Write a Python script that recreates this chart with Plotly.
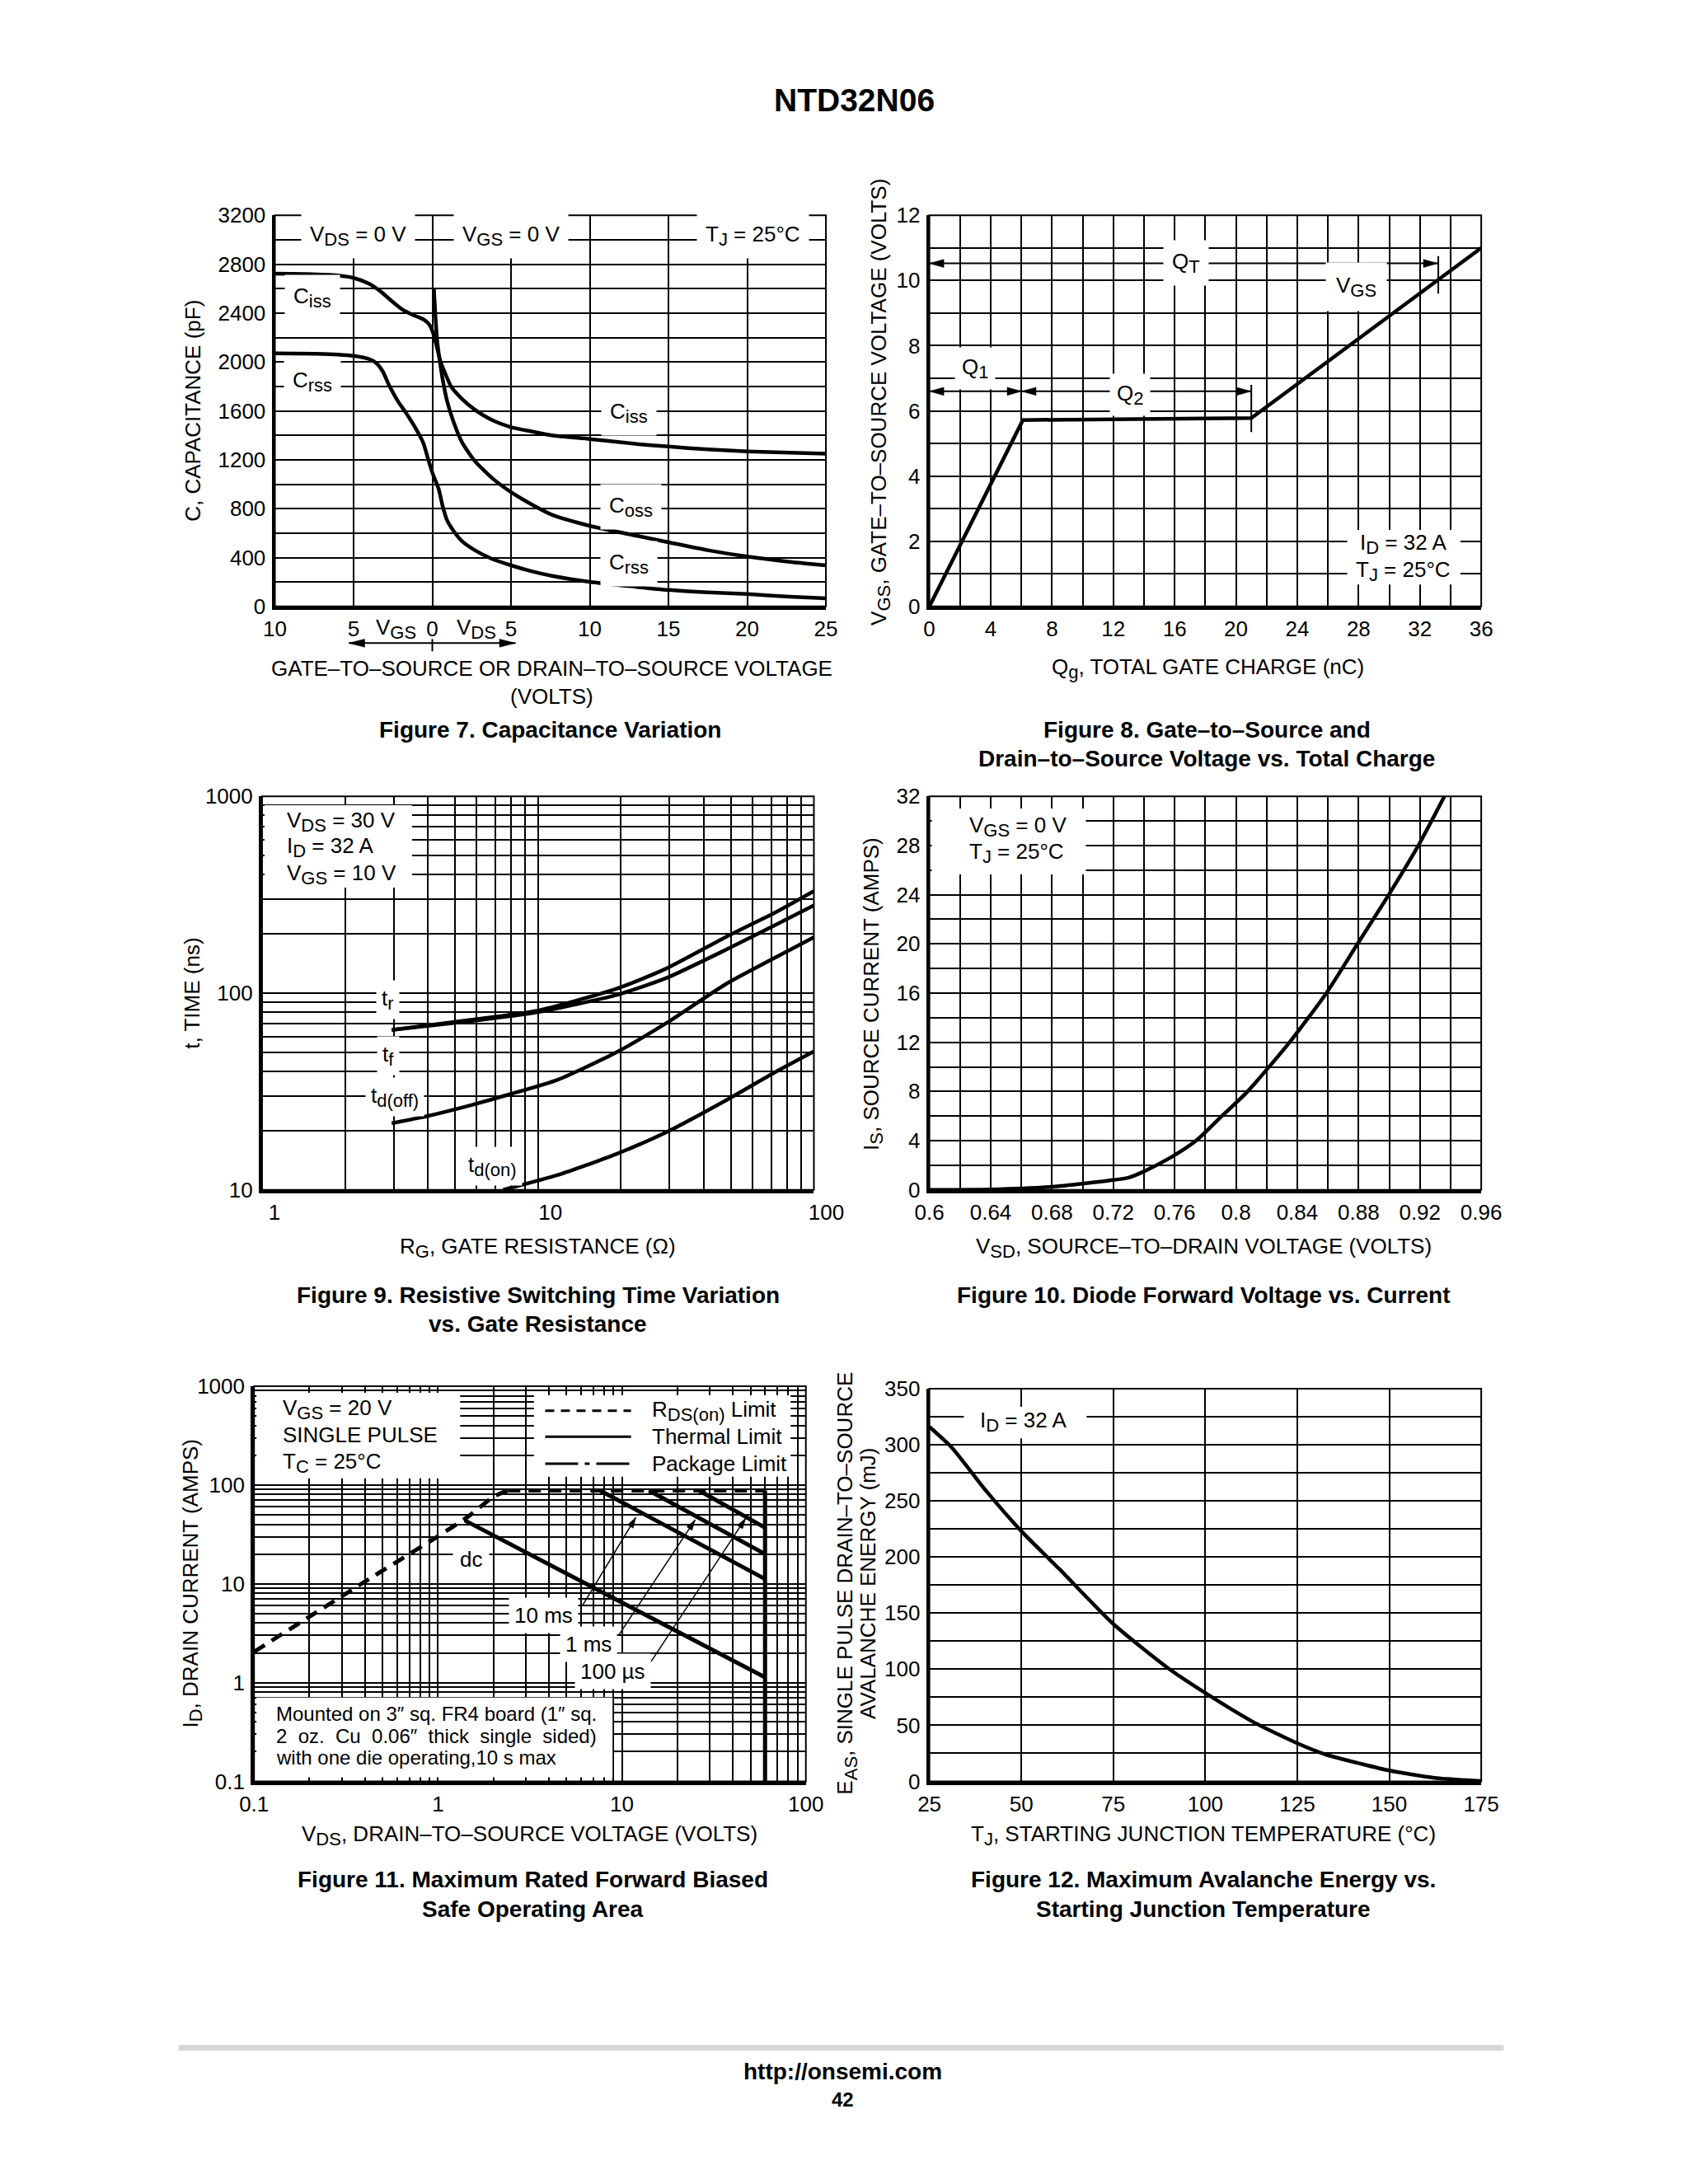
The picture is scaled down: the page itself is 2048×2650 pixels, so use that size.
import math
import plotly.graph_objects as go

W, H = 2048, 2650
FONT = "Liberation Sans, Arial, Helvetica, sans-serif"

# ---------------- data ----------------
# Figure 7 - capacitance (negative V = V_GS side, positive V = V_DS side)
ciss_v = [-10, -8, -6, -5, -4.1, -3.3, -2.6, -1.9, -1.25, -0.57, -0.24, 0, 0.25, 0.53, 0.8, 1.2, 1.9, 2.7,
          3.8, 5, 6.3, 7.6, 10, 13.1, 15, 17.5, 20, 22.7, 25]
ciss_c = [2723, 2720, 2708, 2688, 2645, 2579, 2501, 2429, 2386, 2349, 2314, 2257, 2142, 1998, 1912, 1797,
          1696, 1610, 1524, 1466, 1432, 1400, 1370, 1328, 1308, 1285, 1268, 1258, 1250]
coss_v = [0.1, 0.2, 0.31, 0.45, 0.66, 0.94, 1.35, 1.9, 2.7, 3.8, 5, 6.3, 7.6, 10, 13.1, 15, 17.5, 20, 22.7, 25]
coss_c = [2600, 2370, 2170, 2030, 1855, 1680, 1510, 1340, 1190, 1050, 935, 835, 750, 660, 575, 525, 460,
          408, 365, 336]
crss_v = [-10, -7.4, -6, -5, -4.1, -3.57, -3.16, -2.75, -2.2, -1.66, -1.1, -0.57, -0.24, 0.05, 0.4, 0.66,
          0.94, 1.35, 1.9, 2.7, 3.8, 5, 6.3, 7.6, 10, 13.1, 15, 17.5, 20, 22.7, 25]
crss_c = [2070, 2067, 2061, 2050, 2027, 1992, 1926, 1811, 1682, 1581, 1466, 1337, 1193, 1078, 963, 819,
          704, 618, 532, 460, 388, 336, 288, 250, 201, 158, 135, 115, 101, 80, 66]
cap_tick_vals = [-10, -5, 0, 5, 10, 15, 20, 25]
cap_tick_text = ["10", "5", "0", "5", "10", "15", "20", "25"]

# Figure 8 - gate charge
qg_nc = [0, 6.1, 21.0, 36.0]
vgs_volts = [0, 5.72, 5.78, 11.0]

# Figure 9 - switching times
tr_rg = [2.95, 5.7, 9.8, 19.2, 29.1, 48.4, 72.1, 100]
tr_ns = [65, 73, 81, 105, 133, 194, 256, 330]
tf_rg = [2.95, 5.7, 9.8, 19.2, 29.1, 48.4, 72.1, 100]
tf_ns = [65, 72, 79.6, 97.7, 119, 167, 221, 279]
tdoff_rg = [2.95, 3.97, 5.7, 7.9, 11.8, 19.2, 29.1, 48.4, 72.1, 100]
tdoff_ns = [21.8, 23.7, 26.9, 30.6, 36.3, 49.9, 70.2, 112, 151, 192]
tdon_rg = [7.48, 11.8, 19.2, 29.1, 48.4, 72.1, 100]
tdon_ns = [10, 11.9, 15.2, 19.6, 28.7, 39.5, 50.5]

# Figure 10 - diode forward voltage
vsd_volts = [0.60, 0.64, 0.68, 0.72, 0.73, 0.74, 0.757, 0.774, 0.7908, 0.8076, 0.835, 0.859, 0.8793,
             0.8997, 0.919, 0.936]
is_amps = [0, 0.03, 0.25, 0.8, 1.0, 1.5, 2.6, 4.0, 6.0, 8.0, 12.0, 16.0, 20.0, 24.0, 28.0, 32.0]

# Figure 11 - safe operating area
rds_v = [0.1, 0.4, 1.0, 1.46, 2.0, 2.4]
rds_i = [2.05, 10.5, 30.3, 48, 76, 88]
pkg_v = [2.4, 60]
pkg_i = [88, 88]
bv_v = [60, 60]
bv_i = [0.1, 88]
dc_v = [1.4, 60]
dc_i = [43.8, 1.13]
ms10_v = [7.6, 60]
ms10_i = [88, 11.2]
ms1_v = [14, 60]
ms1_i = [88, 20]
us100_v = [26.2, 60]
us100_i = [88, 37]

# Figure 12 - avalanche energy
tj_c = [25, 31.1, 40.5, 50, 60.4, 75, 89.7, 100, 113.1, 125, 133, 142.4, 150, 162.3, 175]
eas_mj = [316, 297.5, 258.6, 223, 189, 140.3, 101.4, 78.8, 52.8, 34, 23.7, 15.6, 9.7, 3.2, 0.3]

# tick labels
fig7_y_labels = ["0", "400", "800", "1200", "1600", "2000", "2400", "2800", "3200"]
fig8_x_labels = ["0", "4", "8", "12", "16", "20", "24", "28", "32", "36"]
fig8_y_labels = ["0", "2", "4", "6", "8", "10", "12"]
fig10_x_labels = ["0.6", "0.64", "0.68", "0.72", "0.76", "0.8", "0.84", "0.88", "0.92", "0.96"]
fig10_y_labels = ["0", "4", "8", "12", "16", "20", "24", "28", "32"]
fig9_x_labels = ["1", "10", "100"]
fig9_y_labels = ["10", "100", "1000"]
fig11_x_labels = ["0.1", "1", "10", "100"]
fig11_y_labels = ["0.1", "1", "10", "100", "1000"]
fig12_x_labels = ["25", "50", "75", "100", "125", "150", "175"]
fig12_y_labels = ["0", "50", "100", "150", "200", "250", "300", "350"]


# ---------------- helpers ----------------
def px(x):
    return x / W


def py(y):
    return 1 - y / H


def S(s, size=22):
    # large datasheet-style subscript
    return '<sub><span style="font-size:%dpx">%s</span></sub>' % (size, s)


def lin_grid(lo, hi, step, labels, every):
    n = int(round((hi - lo) / step))
    major, minor = [], []
    for i in range(n + 1):
        v = round(lo + i * step, 6)
        (major if i % every == 0 else minor).append(v)
    return major, labels, minor


def log_grid(lo_exp, hi_exp, labels):
    major, minor = [], []
    for e in range(lo_exp, hi_exp):
        for m in range(1, 10):
            v = round(m * 10 ** e, 6)
            (major if m == 1 else minor).append(v)
    major.append(round(10 ** hi_exp, 6))
    return major, labels, minor


# panel boxes in page pixels: left, top, right, bottom
panels = [
    (316, 241, 1003, 721),
    (1132, 241, 1820, 721),
    (300, 954, 988, 1437),
    (1132, 954, 1820, 1437),
    (290, 1678, 978, 2163),
    (1132, 1681, 1820, 2163),
]

tickfont = dict(size=26, family=FONT, color="black")


def axis(i, letter, typ, rng, grid, extra=None, gw=2):
    major, text, minor = grid
    l, t, r, b = panels[i]
    other = ("y" if letter == "x" else "x") + ("" if i == 0 else str(i + 1))
    dom = [px(l), px(r)] if letter == "x" else [py(b), py(t)]
    d = dict(domain=dom, type=typ, range=rng, tickmode="array", tickvals=major, ticktext=text,
             showgrid=True, gridcolor="black", gridwidth=gw, zeroline=False, showline=True,
             linecolor="black", linewidth=4, ticks="", tickfont=tickfont, anchor=other,
             fixedrange=True, ticklabelstandoff=1 if letter == "x" else 2)
    if minor:
        d["minor"] = dict(tickmode="array", tickvals=minor, showgrid=True, gridcolor="black",
                          gridwidth=gw, ticks="")
    if extra:
        d.update(extra)
    return d


layout_axes = {}
layout_axes["xaxis"] = axis(0, "x", "linear", [-10, 25], (cap_tick_vals, cap_tick_text, []))
layout_axes["yaxis"] = axis(0, "y", "linear", [0, 3200], lin_grid(0, 3200, 200, fig7_y_labels, 2))
layout_axes["xaxis2"] = axis(1, "x", "linear", [0, 36], lin_grid(0, 36, 2, fig8_x_labels, 2))
layout_axes["yaxis2"] = axis(1, "y", "linear", [0, 12], lin_grid(0, 12, 1, fig8_y_labels, 2))
layout_axes["xaxis3"] = axis(2, "x", "log", [0, 2], log_grid(0, 2, fig9_x_labels),
                             dict(ticklabelshift=15), gw=1.6)
layout_axes["yaxis3"] = axis(2, "y", "log", [1, 3], log_grid(1, 3, fig9_y_labels), gw=1.6)
layout_axes["xaxis4"] = axis(3, "x", "linear", [0.6, 0.96], lin_grid(0.6, 0.96, 0.02, fig10_x_labels, 2))
layout_axes["yaxis4"] = axis(3, "y", "linear", [0, 32], lin_grid(0, 32, 2, fig10_y_labels, 2))
layout_axes["xaxis5"] = axis(4, "x", "log", [-1, 2], log_grid(-1, 2, fig11_x_labels), gw=1.6)
layout_axes["yaxis5"] = axis(4, "y", "log", [-1, 3], log_grid(-1, 3, fig11_y_labels), gw=1.6)
layout_axes["xaxis6"] = axis(5, "x", "linear", [25, 175], lin_grid(25, 175, 25, fig12_x_labels, 1))
layout_axes["yaxis6"] = axis(5, "y", "linear", [0, 350], lin_grid(0, 350, 25, fig12_y_labels, 2))

fig = go.Figure()


def curve(x, y, ax, shape="spline", dash=None, width=4.5):
    line = dict(color="black", width=width, shape=shape)
    if shape == "spline":
        line["smoothing"] = 0.6
    if dash:
        line["dash"] = dash
    xa = "x" if ax == 1 else "x%d" % ax
    ya = "y" if ax == 1 else "y%d" % ax
    fig.add_trace(go.Scatter(x=x, y=y, mode="lines", line=line, xaxis=xa, yaxis=ya,
                             showlegend=False, hoverinfo="skip"))


curve(ciss_v, ciss_c, 1)
curve(coss_v, coss_c, 1)
curve(crss_v, crss_c, 1)
curve(qg_nc, vgs_volts, 2, shape="linear")
curve(tr_rg, tr_ns, 3)
curve(tf_rg, tf_ns, 3)
curve(tdoff_rg, tdoff_ns, 3)
curve(tdon_rg, tdon_ns, 3)
curve(vsd_volts, is_amps, 4)
curve(rds_v, rds_i, 5, shape="spline", dash="15px,10px", width=5)
curve(pkg_v, pkg_i, 5, shape="linear", dash="15px,10px", width=5)
curve(bv_v, bv_i, 5, shape="linear", width=5)
curve(dc_v, dc_i, 5, shape="linear", width=5)
curve(ms10_v, ms10_i, 5, shape="linear", width=5)
curve(ms1_v, ms1_i, 5, shape="linear", width=5)
curve(us100_v, us100_i, 5, shape="linear", width=5)
curve(tj_c, eas_mj, 6)

# ---------------- shapes ----------------
shapes = []


def WBOX(x0, y0, x1, y1):
    shapes.append(dict(type="rect", xref="paper", yref="paper", x0=px(x0), x1=px(x1), y0=py(y1), y1=py(y0),
                       fillcolor="white", line=dict(width=0), layer="above"))


def LINE(x0, y0, x1, y1, width=2, dash=None, color="black"):
    ln = dict(color=color, width=width)
    if dash:
        ln["dash"] = dash
    shapes.append(dict(type="line", xref="paper", yref="paper", x0=px(x0), x1=px(x1), y0=py(y0), y1=py(y1),
                       line=ln, layer="above"))


def HEAD(xt, yt, xf, yf, L, hw):
    dx, dy = xt - xf, yt - yf
    n = math.hypot(dx, dy)
    ux, uy = dx / n, dy / n
    bx, by = xt - L * ux, yt - L * uy
    nx, ny = -uy, ux
    pts = [(xt, yt), (bx + hw * nx, by + hw * ny), (bx - hw * nx, by - hw * ny)]
    path = "M " + " L ".join("%.6f,%.6f" % (px(a), py(b)) for a, b in pts) + " Z"
    shapes.append(dict(type="path", xref="paper", yref="paper", path=path, fillcolor="black",
                       line=dict(color="black", width=0.5), layer="above"))


def ARROW(x0, y0, x1, y1, both=False, L=20, hw=5, lw=2):
    LINE(x0, y0, x1, y1, width=lw)
    HEAD(x1, y1, x0, y0, L, hw)
    if both:
        HEAD(x0, y0, x1, y1, L, hw)


# white label boxes (drawn first, so frames and lines come on top)
WBOX(1653, 627, 1794, 694)      # fig 8 conditions
WBOX(303, 965, 487, 1066)       # fig 9 conditions
WBOX(1135, 969, 1327, 1050)     # fig 10 conditions
WBOX(293, 1686, 547, 1791)      # fig 11 conditions
WBOX(639, 1689, 959, 1789)      # fig 11 legend
WBOX(293, 2060, 737, 2158)      # fig 11 note
WBOX(1175, 1703, 1328, 1742)    # fig 12 condition

for (l, t, r, b) in panels:
    shapes.append(dict(type="rect", xref="paper", yref="paper", x0=px(l), x1=px(r), y0=py(b), y1=py(t),
                       line=dict(color="black", width=2), layer="above"))

# fig 7: tick under the x axis at 0 V and V_GS / V_DS arrow
shapes.append(dict(type="line", xref="x", yref="paper", x0=0, x1=0, y0=py(761), y1=py(776),
                   line=dict(color="black", width=2)))
ARROW(408, 766, 616, 766, both=True, L=20, hw=5)
# fig 8 markers and arrows
shapes.append(dict(type="line", xref="x2", yref="y2", x0=21, x1=21, y0=5.35, y1=6.8,
                   line=dict(color="black", width=2)))
shapes.append(dict(type="line", xref="x2", yref="y2", x0=33.2, x1=33.2, y0=9.6, y1=10.75,
                   line=dict(color="black", width=2)))
ARROW(1132, 300, 1766, 300, both=True, L=18, hw=5)
ARROW(1132, 457, 1247, 457, both=True, L=18, hw=5)
ARROW(1247, 457, 1533, 457, both=True, L=18, hw=5)
# fig 11 leaders
ARROW(699, 1948, 766, 1839, L=13, hw=4, lw=1.5)
ARROW(745, 1983, 840, 1842, L=13, hw=4, lw=1.5)
ARROW(785, 2016, 903, 1840, L=13, hw=4, lw=1.5)
# fig 11 legend samples
LINE(653, 1708, 760, 1708, width=3, dash="11px,8px")
LINE(653, 1740, 760, 1740, width=3)
LINE(653, 1773, 760, 1773, width=3, dash="40px,8px,6px,8px")
# footer rule
LINE(196, 2490, 1848, 2490, width=7, color="#d6d6d6")

# ---------------- annotations ----------------
ann = []


def T(x, y, s, size=26, bold=False, xanchor="center", yanchor="middle", bg=None, pad=2, angle=0):
    d = dict(xref="paper", yref="paper", x=px(x), y=py(y), text=("<b>%s</b>" % s) if bold else s,
             showarrow=False, xanchor=xanchor, yanchor=yanchor, textangle=angle, borderpad=pad,
             font=dict(size=size, family=FONT, color="black"))
    if bg:
        d["bgcolor"] = bg
    ann.append(d)


# page title and footer
T(1038, 100, "NTD32N06", size=39, bold=True)
T(1024, 2519, "http://onsemi.com", size=28, bold=True)
T(1024, 2553, "42", size=24, bold=True)

# ---- Figure 7 ----
T(420, 266, "V" + S("DS") + " = 0 V", bg="white", pad=10)
T(610, 266, "V" + S("GS") + " = 0 V", bg="white", pad=10)
T(912, 266, "T" + S("J") + " = 25°C", bg="white", pad=10)
T(363, 342, "C" + S("iss"), bg="white", pad=10)
T(363, 445, "C" + S("rss"), bg="white", pad=10)
T(757, 483, "C" + S("iss"), bg="white", pad=10)
T(760, 599, "C" + S("oss"), bg="white", pad=10)
T(757, 669, "C" + S("rss"), bg="white", pad=10)
T(467, 748, "V" + S("GS"))
T(567, 748, "V" + S("DS"))
T(661, 797, "GATE–TO–SOURCE OR DRAIN–TO–SOURCE VOLTAGE")
T(661, 831, "(VOLTS)")
T(213, 481, "C, CAPACITANCE (pF)", angle=-90)
T(659, 872, "Figure 7. Capacitance Variation", size=28, bold=True)

# ---- Figure 8 ----
T(1452, 299, "Q" + S("T"), bg="white", pad=10)
T(1664, 329, "V" + S("GS"), bg="white", pad=12)
T(1189, 429, "Q" + S("1"), bg="white", pad=8)
T(1382, 461, "Q" + S("2"), bg="white", pad=8)
T(1723, 644, "I" + S("D") + " = 32 A")
T(1723, 678, "T" + S("J") + " = 25°C")
T(1479, 797, "Q" + S("g") + ", TOTAL GATE CHARGE (nC)")
T(1070, 470, "V" + S("GS") + ", GATE–TO–SOURCE VOLTAGE (VOLTS)", angle=-90)
T(1478, 872, "Figure 8. Gate–to–Source and", size=28, bold=True)
T(1478, 908, "Drain–to–Source Voltage vs. Total Charge", size=28, bold=True)

# ---- Figure 9 ----
T(328, 985, "V" + S("DS") + " = 30 V", xanchor="left")
T(328, 1017, "I" + S("D") + " = 32 A", xanchor="left")
T(328, 1050, "V" + S("GS") + " = 10 V", xanchor="left")
T(457, 1204, "t" + S("r"), bg="white", pad=6)
T(457, 1272, "t" + S("f"), bg="white", pad=6)
T(466, 1323, "t" + S("d(off)"), bg="white", pad=6)
T(587, 1408, "t" + S("d(on)"), bg="white", pad=6)
T(644, 1508, "R" + S("G") + ", GATE RESISTANCE (Ω)")
T(213, 1196, "t, TIME (ns)", angle=-90)
T(644, 1566, "Figure 9. Resistive Switching Time Variation", size=28, bold=True)
T(644, 1602, "vs. Gate Resistance", size=28, bold=True)

# ---- Figure 10 ----
T(1179, 991, "V" + S("GS") + " = 0 V", xanchor="left")
T(1179, 1024, "T" + S("J") + " = 25°C", xanchor="left")
T(1474, 1508, "V" + S("SD") + ", SOURCE–TO–DRAIN VOLTAGE (VOLTS)")
T(1062, 1196, "I" + S("S") + ", SOURCE CURRENT (AMPS)", angle=-90)
T(1474, 1566, "Figure 10. Diode Forward Voltage vs. Current", size=28, bold=True)

# ---- Figure 11 ----
T(323, 1706, "V" + S("GS") + " = 20 V", xanchor="left")
T(323, 1738, "SINGLE PULSE", xanchor="left")
T(323, 1772, "T" + S("C") + " = 25°C", xanchor="left")
T(783, 1708, "R" + S("DS(on)") + " Limit", xanchor="left")
T(783, 1740, "Thermal Limit", xanchor="left")
T(783, 1773, "Package Limit", xanchor="left")
T(561, 1890, "dc", bg="white", pad=8)
T(651, 1959, "10 ms", bg="white", pad=6)
T(707, 1995, "1 ms", bg="white", pad=6)
T(737, 2028, "100 µs", bg="white", pad=6)
T(314, 2080, "Mounted on 3″ sq. FR4 board (1″ sq.", size=24, xanchor="left")
T(314, 2107, "2  oz.  Cu  0.06″  thick  single  sided)", size=24, xanchor="left")
T(314, 2134, "with one die operating,10 s max", size=24, xanchor="left")
T(634, 2229, "V" + S("DS") + ", DRAIN–TO–SOURCE VOLTAGE (VOLTS)")
T(213, 1920, "I" + S("D") + ", DRAIN CURRENT (AMPS)", angle=-90)
T(638, 2283, "Figure 11. Maximum Rated Forward Biased", size=28, bold=True)
T(638, 2320, "Safe Operating Area", size=28, bold=True)

# ---- Figure 12 ----
T(1249, 1721, "I" + S("D") + " = 32 A")
T(1474, 2229, "T" + S("J") + ", STARTING JUNCTION TEMPERATURE (°C)")
T(1029, 1920, "E" + S("AS") + ", SINGLE PULSE DRAIN–TO–SOURCE", angle=-90)
T(1056, 1920, "AVALANCHE ENERGY (mJ)", angle=-90)
T(1474, 2283, "Figure 12. Maximum Avalanche Energy vs.", size=28, bold=True)
T(1474, 2320, "Starting Junction Temperature", size=28, bold=True)

fig.update_layout(
    width=W, height=H, margin=dict(l=0, r=0, t=0, b=0),
    paper_bgcolor="white", plot_bgcolor="white",
    font=dict(family=FONT, color="black", size=26),
    showlegend=False, shapes=shapes, annotations=ann, **layout_axes)

fig.write_html("out.html")
